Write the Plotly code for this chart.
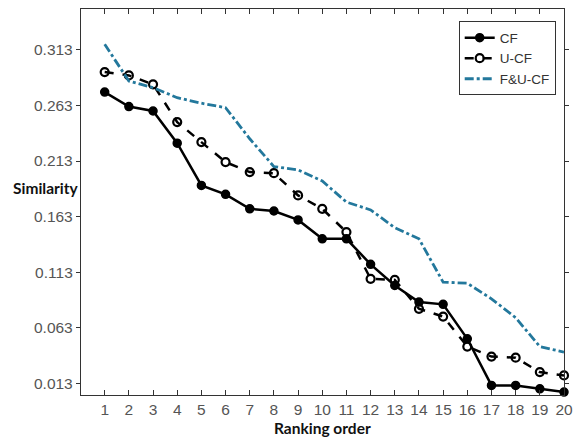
import plotly.graph_objects as go

ranks = list(range(1, 21))
cf = [0.275, 0.262, 0.258, 0.229, 0.191, 0.183, 0.170, 0.168, 0.160, 0.143,
      0.143, 0.120, 0.101, 0.086, 0.084, 0.053, 0.011, 0.011, 0.008, 0.005]
ucf = [0.293, 0.290, 0.282, 0.248, 0.230, 0.212, 0.203, 0.202, 0.182, 0.170,
       0.149, 0.107, 0.106, 0.080, 0.073, 0.046, 0.037, 0.036, 0.023, 0.020]
fucf = [0.318, 0.285, 0.279, 0.270, 0.265, 0.261, 0.233, 0.208, 0.205, 0.195,
        0.176, 0.169, 0.153, 0.143, 0.104, 0.103, 0.089, 0.072, 0.046, 0.041]
yticks = [0.013, 0.063, 0.113, 0.163, 0.213, 0.263, 0.313]

fig = go.Figure()
fig.add_trace(go.Scatter(x=ranks, y=cf, name="CF", mode="lines+markers",
                         line=dict(color="black", width=2.5),
                         marker=dict(symbol="circle", size=8, color="black",
                                     line=dict(color="black", width=1.5))))
fig.add_trace(go.Scatter(x=ranks, y=ucf, name="U-CF", mode="lines+markers",
                         line=dict(color="black", width=2.5, dash="dash"),
                         marker=dict(symbol="circle-open", size=8, color="black",
                                     line=dict(color="black", width=2.2))))
fig.add_trace(go.Scatter(x=ranks, y=fucf, name="F&U-CF", mode="lines",
                         line=dict(color="#23789c", width=2.8, dash="dashdot")))

fig.update_traces(cliponaxis=False)

axis_font = dict(family="Liberation Sans, Arial, sans-serif", size=15.5, color="#555555")
fig.update_layout(
    width=581, height=444,
    margin=dict(l=81, r=10, t=8, b=49),
    paper_bgcolor="white", plot_bgcolor="white",
    showlegend=True,
    legend=dict(x=0.782, y=0.968, xanchor="left", yanchor="top",
                bordercolor="#333333", borderwidth=1, bgcolor="white",
                font=dict(family="Liberation Sans, Arial, sans-serif", size=13.5, color="#333333"),
                tracegroupgap=0, itemwidth=30),
    xaxis=dict(range=[0.02, 20], tickvals=ranks, ticktext=[str(r) for r in ranks],
               ticks="inside", ticklen=5, tickcolor="#333333", mirror="ticks",
               showline=True, linecolor="#333333", linewidth=1.3, showgrid=False,
               zeroline=False, tickfont=axis_font),
    yaxis=dict(range=[0.0024, 0.3498], tickvals=yticks,
               ticktext=["%.3f" % v for v in yticks],
               ticks="outside", ticklen=4, tickcolor="#333333", mirror="ticks",
               showline=True, linecolor="#333333", linewidth=1.3, showgrid=False,
               zeroline=False, tickfont=axis_font),
    annotations=[
        dict(text="<b>Similarity</b>", xref="paper", yref="paper", x=0.0, y=0.535,
             xanchor="right", yanchor="middle", showarrow=False,
             font=dict(family="Lato, Open Sans, sans-serif", size=15.5, color="#111111")),
        dict(text="<b>Ranking order</b>", xref="paper", yref="paper", x=0.5, y=-0.085,
             xanchor="center", yanchor="middle", showarrow=False,
             font=dict(family="Lato, Open Sans, sans-serif", size=15.5, color="#111111")),
    ],
)

fig.write_html("out.html", config={"displayModeBar": False},
               post_script="document.body.style.margin='0';document.body.style.overflow='hidden';")
